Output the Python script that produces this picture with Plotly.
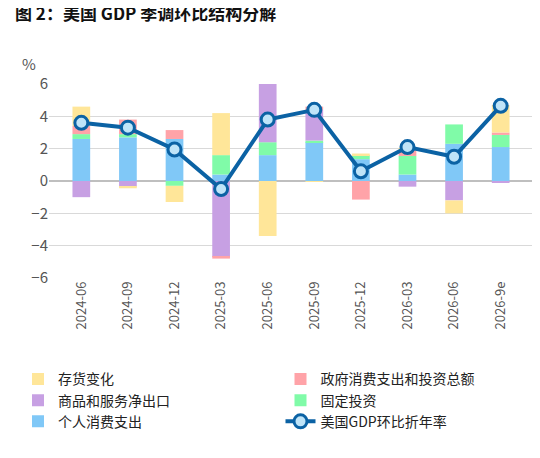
import plotly.graph_objects as go

periods = ["2024-06","2024-09","2024-12","2025-03","2025-06","2025-09","2025-12","2026-03","2026-06","2026-9e"]
consumption = [2.6, 2.7, 2.6, 0.4, 1.6, 2.4, 1.35, 0.4, 2.3, 2.1]
fixed_inv   = [0.3, 0.2, -0.3, 1.2, 0.8, 0.1, 0.25, 1.15, 1.2, 0.75]
net_exports = [-1.0, -0.35, 0.0, -4.7, 3.6, 1.9, 0.0, -0.35, -1.2, -0.1]
government  = [0.5, 0.9, 0.55, -0.1, 0.0, 0.2, -1.15, 0.35, 0.0, 0.15]
inventory   = [1.2, -0.1, -1.0, 2.6, -3.4, -0.05, 0.1, 0.15, -0.8, 1.7]
gdp_qoq     = [3.6, 3.3, 1.95, -0.5, 3.8, 4.4, 0.6, 2.1, 1.5, 4.65]

font = "Noto Sans CJK SC"
fig = go.Figure()
series = [
    ("个人消费支出", consumption, "#80C8F7", 5),
    ("固定投资", fixed_inv, "#80FBA8", 4),
    ("商品和服务净出口", net_exports, "#C7A0E3", 3),
    ("政府消费支出和投资总额", government, "#FFA3A8", 2),
    ("存货变化", inventory, "#FFE699", 1),
]
for name, vals, col, rank in series:
    fig.add_trace(go.Bar(x=periods, y=vals, name=name, marker_color=col,
                         marker_line_width=0, legendrank=rank))
fig.add_trace(go.Scatter(x=periods, y=gdp_qoq, name="美国GDP环比折年率", mode="lines+markers",
                         line=dict(color="#0B62A4", width=4),
                         marker=dict(size=13, color="#BFE4F8", line=dict(color="#0B62A4", width=3)),
                         legendrank=6))
fig.update_layout(
    width=540, height=458, barmode="relative", plot_bgcolor="white", paper_bgcolor="white",
    margin=dict(l=40, r=15, t=76, b=188),
    font=dict(family=font, size=14, color="#333"),
    bargap=0.62,
    xaxis=dict(type="category", tickangle=-90, tickfont=dict(size=13, color="#555"), showline=False),
    yaxis=dict(range=[-6, 6], dtick=2, gridcolor="#D9D9D9", zeroline=True, zerolinecolor="#BFBFBF",
               zerolinewidth=1.5, tickfont=dict(size=15, color="#555")),
    legend=dict(orientation="h", x=-0.06, xanchor="left", y=-0.44, yanchor="top",
                entrywidthmode="fraction", entrywidth=0.5, traceorder="normal",
                tracegroupgap=0, font=dict(size=14, color="#222")),
    showlegend=True,
)
fig.add_annotation(text="%", xref="paper", yref="paper", x=-0.06, y=1.04, xanchor="left",
                   yanchor="bottom", showarrow=False, font=dict(size=15, color="#555"))
fig.add_annotation(text="<b>图 2：美国 GDP 季调环比结构分解</b>", xref="paper", yref="paper",
                   x=-0.075, y=1.37, xanchor="left", yanchor="middle", showarrow=False,
                   font=dict(size=17, color="#111"))
fig.add_annotation(text="数据来源：美国经济分析局，亚特兰大联储，Wind", xref="paper", yref="paper",
                   x=-0.075, y=-0.98, xanchor="left", yanchor="middle", showarrow=False,
                   font=dict(size=16, color="#111"))
fig.write_html("out.html")
